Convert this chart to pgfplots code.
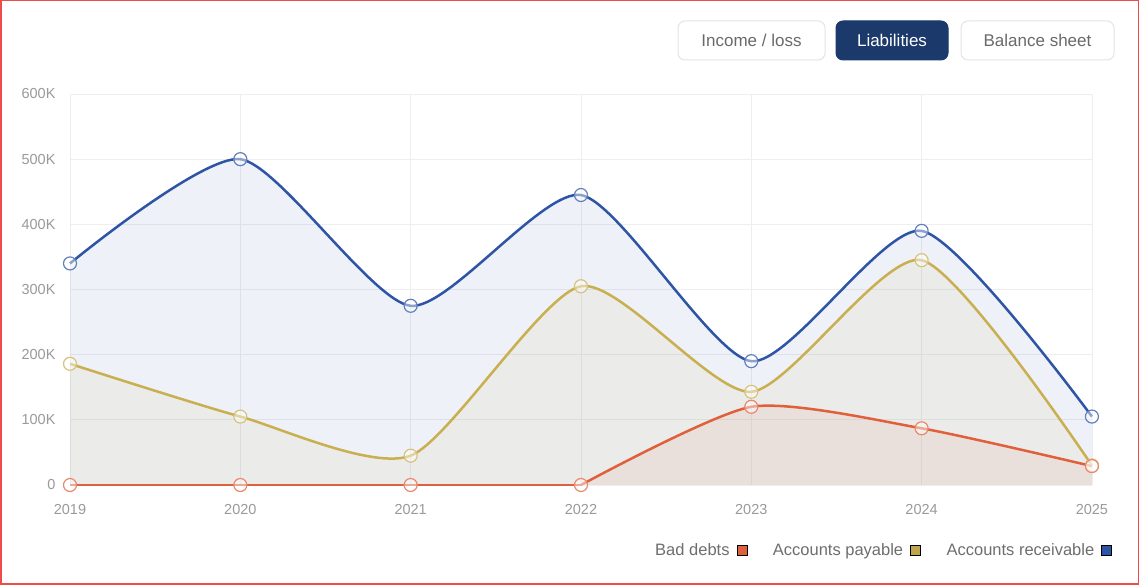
\documentclass[border=0pt]{standalone}
\usepackage{pgfplots}
\pgfplotsset{compat=1.18}
\usepackage{fontspec}
\setmainfont{Liberation Sans}
\definecolor{cBlue}{HTML}{2E55A5}
\definecolor{cGold}{HTML}{C9AF50}
\definecolor{cRed}{HTML}{E0603C}
\definecolor{gridc}{HTML}{EEEEEE}
\definecolor{tickc}{HTML}{9A9A9A}
\definecolor{legc}{HTML}{6E6E6E}
\definecolor{navy}{HTML}{1B3A6B}
\definecolor{framec}{HTML}{EE4B4B}
\definecolor{btnborder}{HTML}{E4E4E4}
\definecolor{btntext}{HTML}{6A6A6A}
\begin{document}
\begin{tikzpicture}[x=1pt,y=1pt]
\useasboundingbox (0,0) rectangle (1139,585);
\fill[white] (0,0) rectangle (1139,585);
% buttons
\node[draw=btnborder, line width=1pt, rounded corners=7pt, fill=white, minimum width=147pt, minimum height=39pt, inner sep=0pt, text=btntext, font=\fontsize{17}{20}\selectfont] at (751.5,544.5) {Income / loss};
\node[draw=navy, line width=1pt, rounded corners=7pt, fill=navy, minimum width=112pt, minimum height=39pt, inner sep=0pt, text=white, font=\fontsize{17}{20}\selectfont] at (892,544.5) {Liabilities};
\node[draw=btnborder, line width=1pt, rounded corners=7pt, fill=white, minimum width=153pt, minimum height=39pt, inner sep=0pt, text=btntext, font=\fontsize{17}{20}\selectfont] at (1037.5,544.5) {Balance sheet};
\begin{axis}[
  at={(70pt,100pt)}, anchor=south west, scale only axis,
  width=1022pt, height=391pt,
  xmin=2019, xmax=2025, ymin=0, ymax=600000,
  clip=false,
  axis line style={draw=none},
  major tick style={draw=none},
  grid=major, major grid style={gridc, line width=0.8pt},
  xtick={2019,2020,2021,2022,2023,2024,2025},
  xticklabels={2019,2020,2021,2022,2023,2024,2025},
  ytick={0,100000,200000,300000,400000,500000,600000},
  yticklabels={0,100K,200K,300K,400K,500K,600K},
  scaled y ticks=false,
  ticklabel style={font=\fontsize{14.5}{16}\selectfont, text=tickc},
  yticklabel style={xshift=-11pt},
  xticklabel style={yshift=-16pt},
  legend plot pos=right,
  legend columns=3,
  legend image code/.code={\fill[#1] (0pt,-5pt) rectangle (10pt,5pt);},
  legend style={at={(axis description cs:1.0195,-0.166)}, anchor=east, draw=none, fill=none, inner sep=0pt,
    font=\fontsize{16.5}{19}\selectfont, text=legc,
    /tikz/every odd column/.append style={column sep=5pt},
    /tikz/every even column/.append style={column sep=24pt}},
]
% fills
\addplot[draw=none, fill=cBlue, fill opacity=0.08, smooth, tension=0.4, forget plot]
  coordinates {(2019,340000)(2020,500000)(2021,275000)(2022,445000)(2023,190000)(2024,390000)(2025,105000)} \closedcycle;
\addplot[draw=none, fill=cGold, fill opacity=0.08, smooth, tension=0.4, forget plot]
  coordinates {(2019,186000)(2020,105000)(2021,45000)(2022,305000)(2023,143000)(2024,345000)(2025,30000)} \closedcycle;
\addplot[draw=none, fill=cRed, fill opacity=0.08, smooth, tension=0.4, forget plot]
  coordinates {(2022,0)(2023,120000)(2024,87000)(2025,29000)} \closedcycle;
% lines
\addplot[cBlue, line width=2.5pt, smooth, tension=0.4, forget plot,
  mark=*, mark size=6.5pt, mark options={solid, line width=1.2pt, draw=cBlue!75!white, fill=white, fill opacity=0.45}]
  coordinates {(2019,340000)(2020,500000)(2021,275000)(2022,445000)(2023,190000)(2024,390000)(2025,105000)};
\addplot[cGold, line width=2.5pt, smooth, tension=0.4, forget plot,
  mark=*, mark size=6.5pt, mark options={solid, line width=1.2pt, draw=cGold!75!white, fill=white, fill opacity=0.45}]
  coordinates {(2019,186000)(2020,105000)(2021,45000)(2022,305000)(2023,143000)(2024,345000)(2025,30000)};
\addplot[cRed, line width=2.5pt, sharp plot, forget plot, no marks]
  coordinates {(2019,0)(2022,0)};
\addplot[cRed, line width=2.5pt, smooth, tension=0.4, forget plot, no marks]
  coordinates {(2022,0)(2023,120000)(2024,87000)(2025,29000)};
\addplot[only marks, forget plot, mark=*, mark size=6.5pt, mark options={solid, line width=1.2pt, draw=cRed!75!white, fill=white, fill opacity=0.45}]
  coordinates {(2019,0)(2020,0)(2021,0)(2022,0)(2023,120000)(2024,87000)(2025,29000)};
% legend
\addlegendimage{fill=cRed}
\addlegendentry{Bad debts}
\addlegendimage{fill=cGold!95!black}
\addlegendentry{Accounts payable}
\addlegendimage{fill=cBlue}
\addlegendentry{Accounts receivable}
\end{axis}
\draw[framec, line width=1.5pt] (0.75,0.75) rectangle (1138.25,584.25);
\end{tikzpicture}
\end{document}
